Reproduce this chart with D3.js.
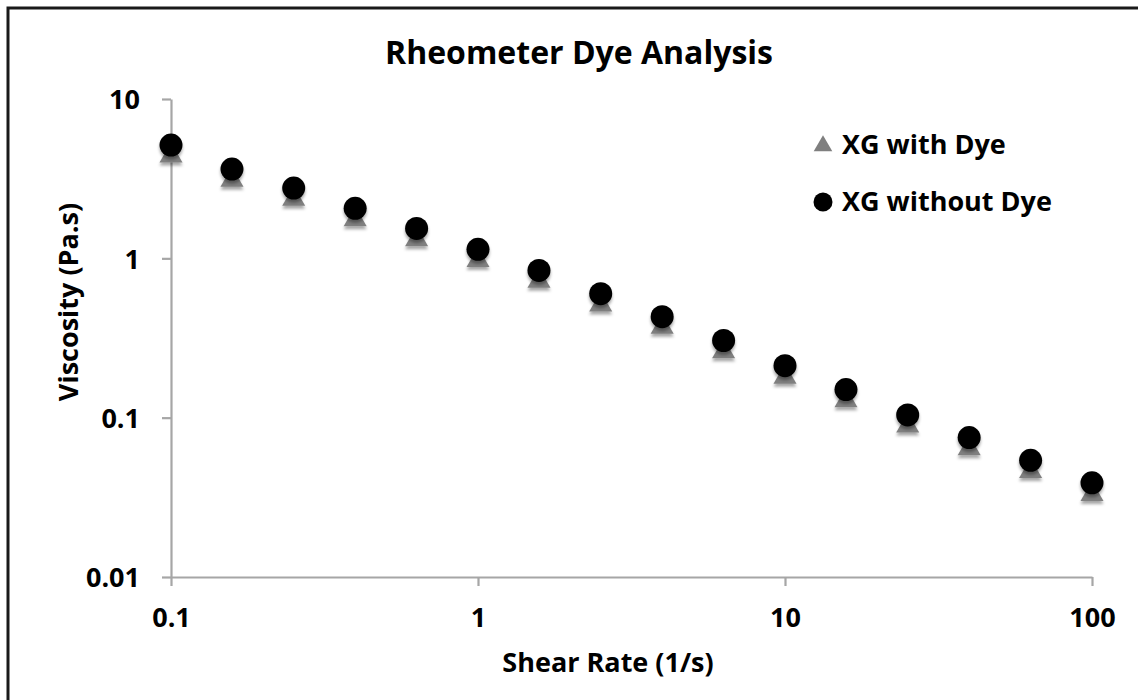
<!DOCTYPE html>
<html>
<head>
<meta charset="utf-8">
<script src="https://cdn.jsdelivr.net/npm/d3@7"></script>
<style>
  html, body { margin: 0; padding: 0; background: #fff; overflow: hidden; }
  svg { display: block; }
  text { font-family: "Open Sans", "Liberation Sans", sans-serif; font-weight: 700; fill: #000; }
</style>
</head>
<body>
<svg id="chart" width="1138" height="700"></svg>
<script>
// ---- data ----
const shearRate = [0.1, 0.158, 0.251, 0.398, 0.631, 1, 1.58, 2.51, 3.98, 6.31, 10, 15.8, 25.1, 39.8, 63.1, 100];
const xgWithDye = [4.4, 3.1, 2.35, 1.75, 1.31, 0.97, 0.72, 0.51, 0.37, 0.26, 0.18, 0.128, 0.089, 0.064, 0.046, 0.033];
const xgWithoutDye = [5.14, 3.63, 2.76, 2.06, 1.54, 1.14, 0.84, 0.60, 0.43, 0.305, 0.212, 0.15, 0.104, 0.075, 0.054, 0.039];
const xTicks = [0.1, 1, 10, 100];
const xTickLabels = ["0.1", "1", "10", "100"];
const yTicks = [0.01, 0.1, 1, 10];
const yTickLabels = ["0.01", "0.1", "1", "10"];
const seriesNames = ["XG with Dye", "XG without Dye"];
const title = "Rheometer Dye Analysis";
const xTitle = "Shear Rate (1/s)";
const yTitle = "Viscosity (Pa.s)";

const svg = d3.select("#chart");

// frame (only top and left edges fall inside the picture)
svg.append("rect").attr("x", 8).attr("y", 8).attr("width", 2000).attr("height", 2000)
  .attr("fill", "#fff").attr("stroke", "#1a1a1a").attr("stroke-width", 3);

const defs = svg.append("defs");
const f = defs.append("filter").attr("id", "shadow").attr("x", "-50%").attr("y", "-50%").attr("width", "200%").attr("height", "200%");
f.append("feDropShadow").attr("dx", 0).attr("dy", 3).attr("stdDeviation", 1.6)
  .attr("flood-color", "#000").attr("flood-opacity", 0.35);

const x = d3.scaleLog().domain([0.1, 100]).range([171, 1092]);
const y = d3.scaleLog().domain([0.01, 10]).range([577, 99]);

const axisColor = "#a6a6a6";

// y axis
const yAxis = svg.append("g").attr("transform", "translate(171,0)")
  .call(d3.axisLeft(y).tickValues(yTicks).tickFormat((d, i) => yTickLabels[i]).tickSize(9).tickSizeOuter(0).tickPadding(22));
yAxis.select(".domain").attr("stroke", axisColor).attr("stroke-width", 2.2);
yAxis.selectAll(".tick line").attr("stroke", axisColor).attr("stroke-width", 2.2);
yAxis.selectAll(".tick text").attr("font-size", 27).attr("dy", "0.36em")
  .style("font-family", "'Open Sans', sans-serif").style("font-weight", 700).attr("fill", "#000");

// x axis
const xAxis = svg.append("g").attr("transform", "translate(0,577)")
  .call(d3.axisBottom(x).tickValues(xTicks).tickFormat((d, i) => xTickLabels[i]).tickSize(9).tickSizeOuter(0).tickPadding(22));
xAxis.select(".domain").attr("stroke", axisColor).attr("stroke-width", 2.2);
xAxis.selectAll(".tick line").attr("stroke", axisColor).attr("stroke-width", 2.2);
xAxis.selectAll(".tick text").attr("font-size", 27).attr("dy", "0.71em")
  .style("font-family", "'Open Sans', sans-serif").style("font-weight", 700).attr("fill", "#000");

// titles
svg.append("text").attr("x", 579).attr("y", 64).attr("text-anchor", "middle").attr("font-size", 32).text(title);
svg.append("text").attr("x", 608).attr("y", 672).attr("text-anchor", "middle").attr("font-size", 27).text(xTitle);
svg.append("text").attr("transform", "translate(78,302) rotate(-90)").attr("text-anchor", "middle").attr("font-size", 27).text(yTitle);

const tri = d3.symbol().type(d3.symbolTriangle);

// series: with dye (triangles)
svg.append("g").selectAll("path").data(shearRate).join("path")
  .attr("d", tri.size(230)())
  .attr("transform", (d, i) => `translate(${x(d)},${y(xgWithDye[i])})`)
  .attr("fill", "#7f7f7f").attr("filter", "url(#shadow)");

// series: without dye (circles)
svg.append("g").selectAll("circle").data(shearRate).join("circle")
  .attr("cx", d => x(d)).attr("cy", (d, i) => y(xgWithoutDye[i])).attr("r", 11.5)
  .attr("fill", "#000").attr("filter", "url(#shadow)");

// legend
const lg = svg.append("g");
lg.append("path").attr("d", d3.symbol().type(d3.symbolTriangle).size(150)()).attr("transform", "translate(823,146)").attr("fill", "#7f7f7f");
lg.append("text").attr("x", 842).attr("y", 154).attr("font-size", 27).text(seriesNames[0]);
lg.append("circle").attr("cx", 823).attr("cy", 202).attr("r", 9.5).attr("fill", "#000");
lg.append("text").attr("x", 842).attr("y", 211).attr("font-size", 27).text(seriesNames[1]);
</script>
</body>
</html>
